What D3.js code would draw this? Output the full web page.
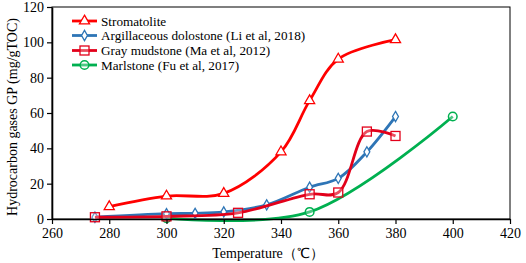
<!DOCTYPE html>
<html><head><meta charset="utf-8">
<script src="https://cdn.jsdelivr.net/npm/d3@7"></script>
<style>body{margin:0;background:#fff}svg{display:block}svg text{font-family:"Liberation Serif","Times New Roman",serif !important;}</style>
</head><body>
<script>
const xTicks = [260,280,300,320,340,360,380,400,420];
const yTicks = [0,20,40,60,80,100,120];
const stromX = [280,300,320,340,350,360,380];
const stromY = [7,13,14.5,38,67,90.5,101.5];
const argX = [275,300,310,320,335,350,360,370,380];
const argY = [1,3,3.2,4,8,18,23,38,58];
const grayX = [275,300,325,350,360,370,380];
const grayY = [1,1.5,3.5,14,15,49.5,47];
const marlX = [300,350,400];
const marlY = [0.5,4,58];
const names = ["Stromatolite","Argillaceous dolostone (Li et al, 2018)","Gray mudstone (Ma et al, 2012)","Marlstone (Fu et al, 2017)"];
const colors = ["#ff0000","#2e75b6","#e2001a","#00b050"];
const markers = ["triangle","diamond","square","circle"];

const W=526,H=263;
const svg=d3.select("body").append("svg").attr("width",W).attr("height",H);
const x=d3.scaleLinear().domain([260,420]).range([52,510]);
const y=d3.scaleLinear().domain([0,120]).range([219,7]);

svg.append("rect").attr("x",52).attr("y",7).attr("width",458).attr("height",212)
  .attr("fill","none").attr("stroke","#000").attr("stroke-width",1);

const series=[[stromX,stromY],[argX,argY],[grayX,grayY],[marlX,marlY]];
const line=d3.line().x(d=>x(d[0])).y(d=>y(d[1])).curve(d3.curveCatmullRom.alpha(0.5));

function marker(g,type,cx,cy,color){
  if(type==="triangle"){
    g.append("path").attr("d",d3.symbol(d3.symbolTriangle,44)()).attr("transform",`translate(${cx},${cy})`)
      .attr("fill","#fff").attr("stroke",color).attr("stroke-width",1.3);
  } else if(type==="diamond"){
    g.append("path").attr("d",d3.symbol(d3.symbolDiamond,30)()).attr("transform",`translate(${cx},${cy})`)
      .attr("fill","#fff").attr("stroke",color).attr("stroke-width",1.3);
  } else if(type==="square"){
    g.append("rect").attr("x",cx-4.5).attr("y",cy-4.5).attr("width",9).attr("height",9)
      .attr("fill","#fff").attr("fill-opacity",0.3).attr("stroke",color).attr("stroke-width",1.3);
  } else {
    g.append("circle").attr("cx",cx).attr("cy",cy).attr("r",4.3)
      .attr("fill","#fff").attr("fill-opacity",0.3).attr("stroke",color).attr("stroke-width",1.5);
  }
}

[3,1,2,0].forEach(i=>{
  const [xs,ys]=series[i];
  const pts=xs.map((v,k)=>[v,ys[k]]);
  const g=svg.append("g");
  g.append("path").datum(pts).attr("d",line).attr("fill","none")
    .attr("stroke",colors[i]).attr("stroke-width",2.8);
  pts.forEach(p=>marker(g,markers[i],x(p[0]),y(p[1]),colors[i]));
});

const xa=svg.append("g").attr("transform","translate(0,219)")
  .call(d3.axisBottom(x).tickValues(xTicks).tickSize(5).tickSizeOuter(0).tickPadding(4));
const ya=svg.append("g").attr("transform","translate(52,0)")
  .call(d3.axisLeft(y).tickValues(yTicks).tickSize(5).tickSizeOuter(0).tickPadding(3));
[xa,ya].forEach(a=>{
  a.attr("font-family",null).attr("font-size",null);
  a.select(".domain").attr("stroke","#000").attr("stroke-width",1.6);
  a.selectAll(".tick line").attr("stroke","#000").attr("stroke-width",1.2);
  a.selectAll("text").style("font-size","14px").attr("fill","#000");
});

svg.append("text").attr("x",268).attr("y",258).attr("text-anchor","middle")
  .style("font-size","14px").text("Temperature（℃）");
svg.append("text").attr("transform","translate(17,117) rotate(-90)").attr("text-anchor","middle")
  .style("font-size","14px").text("Hydrocarbon gases GP (mg/gTOC)");

const ly=[21,35.5,50.5,65];
names.forEach((n,i)=>{
  const g=svg.append("g");
  g.append("line").attr("x1",72).attr("x2",97).attr("y1",ly[i]).attr("y2",ly[i])
    .attr("stroke",colors[i]).attr("stroke-width",2.8);
  marker(g,markers[i],84.5,ly[i],colors[i]);
  g.append("text").attr("x",101).attr("y",ly[i]).attr("dy","0.35em")
    .style("font-size","13.2px").text(n);
});
</script>
</body></html>
